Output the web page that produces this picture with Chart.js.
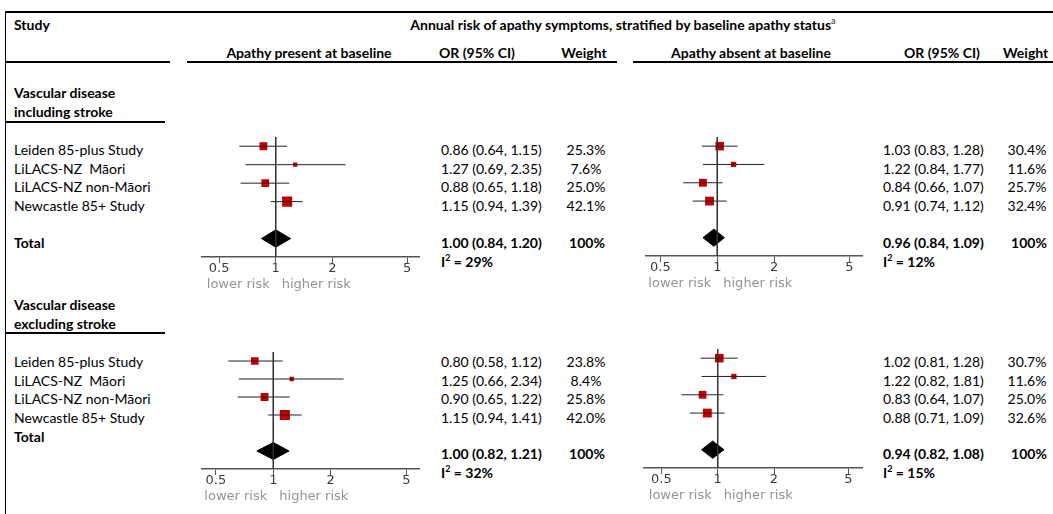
<!DOCTYPE html>
<html>
<head>
<meta charset="utf-8">
<script src="https://cdn.jsdelivr.net/npm/chart.js@4.4.1/dist/chart.umd.min.js"></script>
<style>
  html, body { margin:0; padding:0; background:#fff; }
  #page { position:relative; width:1053px; height:514px; overflow:hidden; font-family:"Lato", "Liberation Sans", sans-serif; font-size:14px; color:#000; }
  .t { position:absolute; white-space:pre; line-height:16px; }
  .b { font-weight:bold; }
  .c { transform:translateX(-50%); }
  .ln { position:absolute; background:#000; }
  canvas { position:absolute; }
  sup { font-size:9px; line-height:0; }
</style>
</head>
<body>
<div id="page"></div>
<script>
// ---- data ----
const STUDIES = ["Leiden 85-plus Study", "LiLACS-NZ  Māori", "LiLACS-NZ non-Māori", "Newcastle 85+ Study"];
const TICKS = [0.5, 1, 2, 5];

// vascular disease including stroke, apathy present at baseline
const A_OR = [0.86, 1.27, 0.88, 1.15];
const A_LO = [0.64, 0.69, 0.65, 0.94];
const A_HI = [1.15, 2.35, 1.18, 1.39];
const A_W  = [25.3, 7.6, 25.0, 42.1];
const A_TOTAL = [1.00, 0.84, 1.20];
const A_I2 = 29;

// vascular disease including stroke, apathy absent at baseline
const B_OR = [1.03, 1.22, 0.84, 0.91];
const B_LO = [0.83, 0.84, 0.66, 0.74];
const B_HI = [1.28, 1.77, 1.07, 1.12];
const B_W  = [30.4, 11.6, 25.7, 32.4];
const B_TOTAL = [0.96, 0.84, 1.09];
const B_I2 = 12;

// vascular disease excluding stroke, apathy present at baseline
const C_OR = [0.80, 1.25, 0.90, 1.15];
const C_LO = [0.58, 0.66, 0.65, 0.94];
const C_HI = [1.12, 2.34, 1.22, 1.41];
const C_W  = [23.8, 8.4, 25.8, 42.0];
const C_TOTAL = [1.00, 0.82, 1.21];
const C_I2 = 32;

// vascular disease excluding stroke, apathy absent at baseline
const D_OR = [1.02, 1.22, 0.83, 0.88];
const D_LO = [0.81, 0.82, 0.64, 0.71];
const D_HI = [1.28, 1.81, 1.07, 1.09];
const D_W  = [30.7, 11.6, 25.0, 32.6];
const D_TOTAL = [0.94, 0.82, 1.08];
const D_I2 = 15;

// ---- table text ----
const page = document.getElementById("page");
function put(html, x, y, cls) {
  const d = document.createElement("div");
  d.className = "t " + (cls || "");
  d.innerHTML = html;
  d.style.left = x + "px";
  d.style.top = (y - 8) + "px";
  page.appendChild(d);
}
function hline(x1, x2, y) {
  const d = document.createElement("div");
  d.className = "ln";
  Object.assign(d.style, { left: x1 + "px", top: (y - 0.75) + "px", width: (x2 - x1) + "px", height: "1.5px" });
  page.appendChild(d);
}
const fmtCI = (o, l, h) => `${o.toFixed(2)} (${l.toFixed(2)}, ${h.toFixed(2)})`;

hline(5, 1053, 12);
(() => { const d = document.createElement("div"); d.className = "ln";
  Object.assign(d.style, { left: "4.5px", top: "12px", width: "1.5px", height: "502px" }); page.appendChild(d); })();
hline(5, 170, 62); hline(187, 617, 62); hline(633, 1053, 62);
hline(5, 165, 122); hline(5, 165, 333);

put("Study", 14, 25, "b");
put('Annual risk of apathy symptoms, stratified by baseline apathy status<sup style="color:#555">a</sup>', 623, 25, "b c");
put("Apathy present at baseline", 309, 53, "b c");
put("OR (95% CI)", 477, 53, "b c");
put("Weight", 584, 53, "b c");
put("Apathy absent at baseline", 751, 53, "b c");
put("OR (95% CI)", 942, 53, "b c");
put("Weight", 1003, 53, "b");

function group(title1, title2, ty, rowsY, totalY, orL, orR, sumY, i2Y, L, R) {
  put(title1, 14, ty, "b");
  put(title2, 14, ty + 19, "b");
  STUDIES.forEach((s, i) => {
    put(s, 14, rowsY[i]);
    put(fmtCI(L.or[i], L.lo[i], L.hi[i]), orL, rowsY[i]);
    put(L.w[i].toFixed(1) + "%", 586, rowsY[i], "c");
    put(fmtCI(R.or[i], R.lo[i], R.hi[i]), orR, rowsY[i]);
    put(R.w[i].toFixed(1) + "%", 1027, rowsY[i], "c");
  });
  put("Total", 14, totalY, "b");
  put(fmtCI(...L.total), orL, sumY, "b");
  put("100%", 587, sumY, "b c");
  put(`I<sup>2</sup> = ${L.i2}%`, orL, i2Y, "b");
  put(fmtCI(...R.total), orR, sumY, "b");
  put("100%", 1029, sumY, "b c");
  put(`I<sup>2</sup> = ${R.i2}%`, orR, i2Y, "b");
}
const A = { or: A_OR, lo: A_LO, hi: A_HI, w: A_W, total: A_TOTAL, i2: A_I2 };
const B = { or: B_OR, lo: B_LO, hi: B_HI, w: B_W, total: B_TOTAL, i2: B_I2 };
const C = { or: C_OR, lo: C_LO, hi: C_HI, w: C_W, total: C_TOTAL, i2: C_I2 };
const D = { or: D_OR, lo: D_LO, hi: D_HI, w: D_W, total: D_TOTAL, i2: D_I2 };

group("Vascular disease", "including stroke", 93, [150, 168.5, 187, 206], 243, 441, 883, 243, 262, A, B);
group("Vascular disease", "excluding stroke", 305, [362, 381, 399, 418], 437, 441, 883, 454, 473, C, D);

// ---- forest plots ----
Chart.defaults.font.family = "'DejaVu Sans', sans-serif";

const riskLabels = {
  id: "riskLabels",
  afterDraw(chart) {
    const { ctx, chartArea, scales: { x } } = chart;
    const px = x.getPixelForValue(1);
    ctx.save();
    ctx.font = "13px 'DejaVu Sans'";
    ctx.fillStyle = "#939393";
    ctx.textBaseline = "middle";
    ctx.textAlign = "right";
    ctx.fillText("lower risk", px - 6, chartArea.bottom + 28);
    ctx.textAlign = "left";
    ctx.fillText("higher risk", px + 6, chartArea.bottom + 28);
    ctx.restore();
  }
};

function forest(p, g) {
  const cv = document.createElement("canvas");
  cv.width = g.w; cv.height = g.top2 + g.area + 40;
  cv.style.left = g.left + "px"; cv.style.top = g.top + "px";
  page.appendChild(cv);

  const H = 0.47; // diamond half-height in row units
  const [est, lo, hi] = p.total;
  const datasets = [
    { data: [{ x: 1, y: 0.5 }, { x: 1, y: 7 }], showLine: true, borderColor: "#333", borderWidth: 1, pointRadius: 0 }
  ];
  p.or.forEach((v, i) => {
    datasets.push({ data: [{ x: p.lo[i], y: i + 1 }, { x: p.hi[i], y: i + 1 }], showLine: true,
      borderColor: "#222", borderWidth: 1, pointRadius: 0 });
  });
  datasets.push({
    data: p.or.map((v, i) => ({ x: v, y: i + 1 })),
    pointStyle: "rect", backgroundColor: "#c00000", borderWidth: 0,
    pointRadius: ctx => 1.55 * Math.sqrt(p.w[ctx.dataIndex]) / Math.SQRT2
  });
  datasets.push({ data: [{ x: lo, y: 6 }, { x: est, y: 6 - H }, { x: hi, y: 6 }], showLine: true,
    borderColor: "#000", borderWidth: 1, backgroundColor: "#000", fill: "+1", pointRadius: 0 });
  datasets.push({ data: [{ x: lo, y: 6 }, { x: est, y: 6 + H }, { x: hi, y: 6 }], showLine: true,
    borderColor: "#000", borderWidth: 1, backgroundColor: "#000", pointRadius: 0 });

  new Chart(cv, {
    type: "scatter",
    data: { datasets },
    plugins: [riskLabels],
    options: {
      responsive: false, animation: false, devicePixelRatio: 1,
      layout: { padding: { left: g.padL, right: g.padR, top: g.top2, bottom: 0 }, autoPadding: false },
      plugins: { legend: { display: false }, tooltip: { enabled: false } },
      scales: {
        y: { display: false, min: 0.5, max: 7, reverse: true },
        x: {
          type: "logarithmic", min: g.min, max: g.max, position: "bottom",
          afterBuildTicks: s => { s.ticks = TICKS.map(v => ({ value: v })); },
          afterFit: s => { s.height = 40; },
          border: { color: "#555", width: 1.5 },
          grid: { drawOnChartArea: false, color: "#555", tickLength: 6 },
          ticks: { autoSkip: false, maxRotation: 0, padding: -2, color: "#3a3a3a", font: { size: 13 },
            callback: v => String(v) }
        }
      }
    }
  });
}

forest(A, { left: 190, top: 130, top2: 7, area: 120, w: 240, padL: 11.7, padR: 11, min: 0.404, max: 5.78 });
forest(B, { left: 634, top: 130, top2: 7, area: 119, w: 240, padL: 12, padR: 12, min: 0.4197, max: 5.83 });
forest(C, { left: 190, top: 345, top2: 7, area: 117, w: 240, padL: 11.7, padR: 10.7, min: 0.421, max: 5.84 });
forest(D, { left: 632, top: 342, top2: 7, area: 119, w: 240, padL: 12, padR: 10, min: 0.4035, max: 5.91 });
</script>
</body>
</html>
